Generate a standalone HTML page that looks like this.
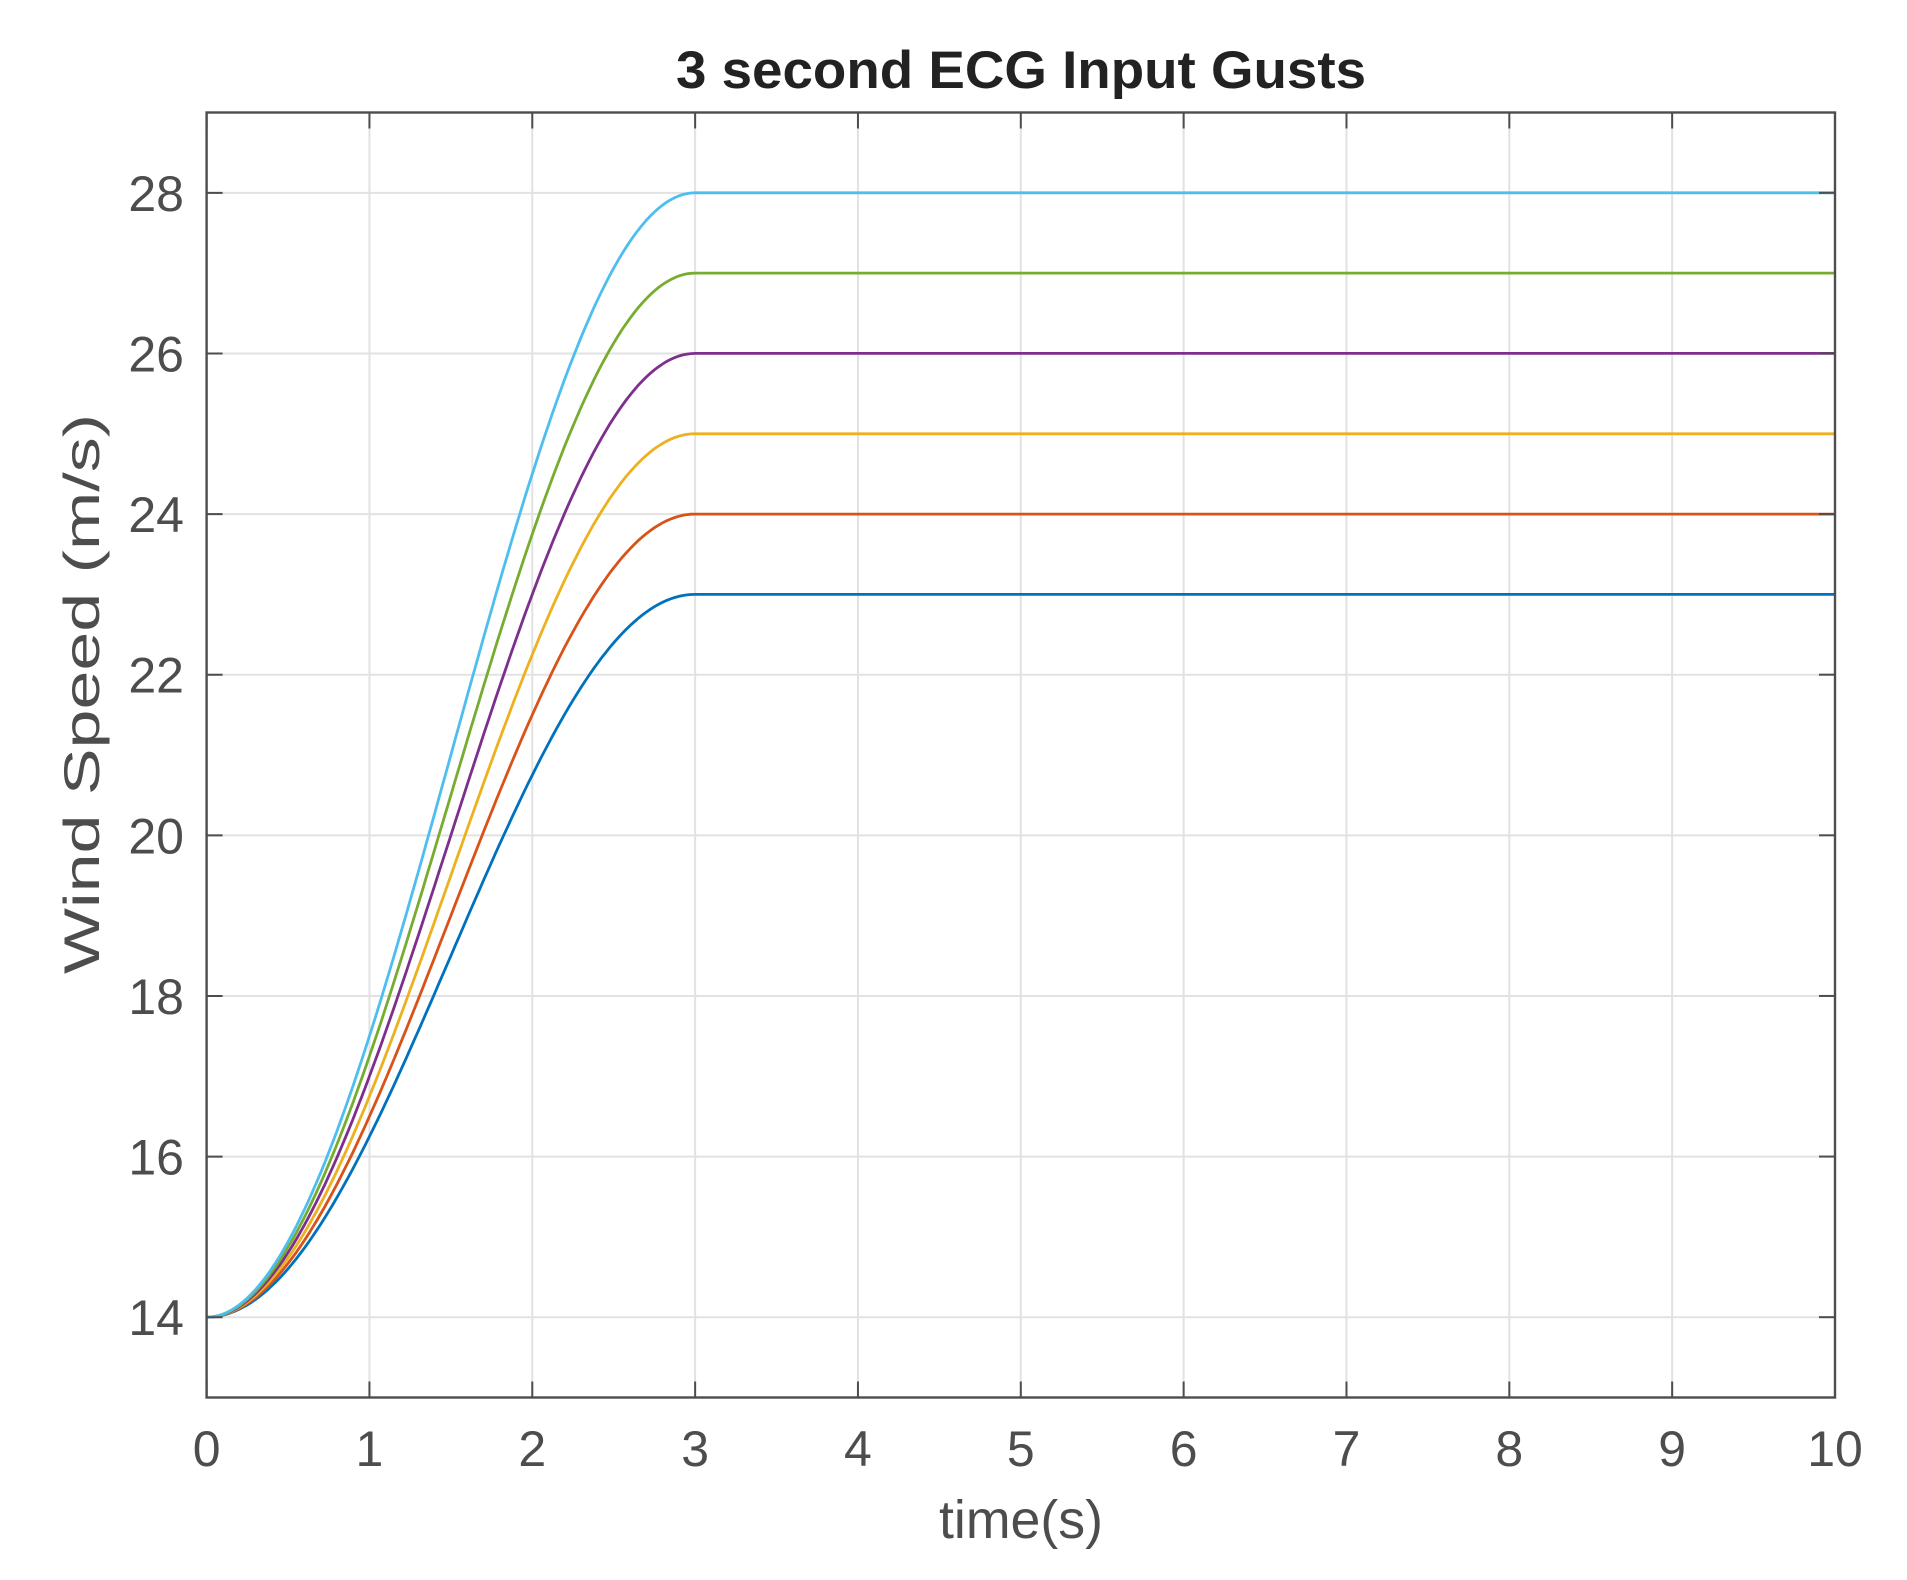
<!DOCTYPE html>
<html><head><meta charset="utf-8"><style>
html,body{margin:0;padding:0;background:#fff;}
svg text{font-family:"Liberation Sans",Arial,sans-serif;}
</style></head><body>
<svg id="s" width="1907" height="1575" xmlns="http://www.w3.org/2000/svg">
<rect width="1907" height="1575" fill="#fff"/>
<g id="grid"></g>
<g id="curves"></g>
<g id="axes"></g>
<text x="1021" y="88" text-anchor="middle" font-size="53" font-weight="bold" fill="#222" textLength="690" lengthAdjust="spacingAndGlyphs">3 second ECG Input Gusts</text>
<text x="1021" y="1538" text-anchor="middle" font-size="54" fill="#4d4d4d" textLength="164" lengthAdjust="spacingAndGlyphs">time(s)</text>
<text transform="translate(99,694) rotate(-90)" text-anchor="middle" font-size="50" fill="#4d4d4d" textLength="560" lengthAdjust="spacingAndGlyphs">Wind Speed (m/s)</text>
</svg>
<script>
var L=206.6,R=1835,T=112.5,B=1397.5,NS="http://www.w3.org/2000/svg";
function X(t){return L+(R-L)*t/10;}
function Y(v){return B-(B-T)*(v-13)/16;}
function el(p,tag,a,txt){var e=document.createElementNS(NS,tag);for(var k in a)e.setAttribute(k,a[k]);if(txt!=null)e.textContent=txt;p.appendChild(e);return e;}
var g=document.getElementById('grid'),c=document.getElementById('curves'),ax=document.getElementById('axes');
for(var i=1;i<10;i++)el(g,'line',{x1:X(i),x2:X(i),y1:T,y2:B,stroke:'#e2e2e2','stroke-width':2});
for(var v=14;v<=28;v+=2)el(g,'line',{x1:L,x2:R,y1:Y(v),y2:Y(v),stroke:'#e2e2e2','stroke-width':2});
var cols=['#0072BD','#D95319','#EDB120','#7E2F8E','#77AC30','#4DBEEE'];
for(var k=0;k<6;k++){var A=9+k,d='';for(var j=0;j<=120;j++){var t=3*j/120;var u=14+A*(1-Math.cos(Math.PI*t/3))/2;d+=(j?'L':'M')+X(t).toFixed(1)+' '+Y(u).toFixed(1);}
d+='L'+X(10)+' '+Y(14+A).toFixed(1);el(c,'path',{d:d,fill:'none',stroke:cols[k],'stroke-width':2.8});}
el(ax,'rect',{x:L,y:T,width:R-L,height:B-T,fill:'none',stroke:'#4d4d4d','stroke-width':2.4});
for(var i=0;i<=10;i++){var x=X(i);el(ax,'line',{x1:x,x2:x,y1:B,y2:B-16,stroke:'#4d4d4d','stroke-width':2});el(ax,'line',{x1:x,x2:x,y1:T,y2:T+16,stroke:'#4d4d4d','stroke-width':2});
el(ax,'text',{x:x,y:1466,'text-anchor':'middle','font-size':50,fill:'#4d4d4d'},i);}
for(var v=14;v<=28;v+=2){var y=Y(v);el(ax,'line',{x1:L,x2:L+16,y1:y,y2:y,stroke:'#4d4d4d','stroke-width':2});el(ax,'line',{x1:R,x2:R-16,y1:y,y2:y,stroke:'#4d4d4d','stroke-width':2});
el(ax,'text',{x:184,y:y+18,'text-anchor':'end','font-size':50,fill:'#4d4d4d'},v);}
</script>
</body></html>
